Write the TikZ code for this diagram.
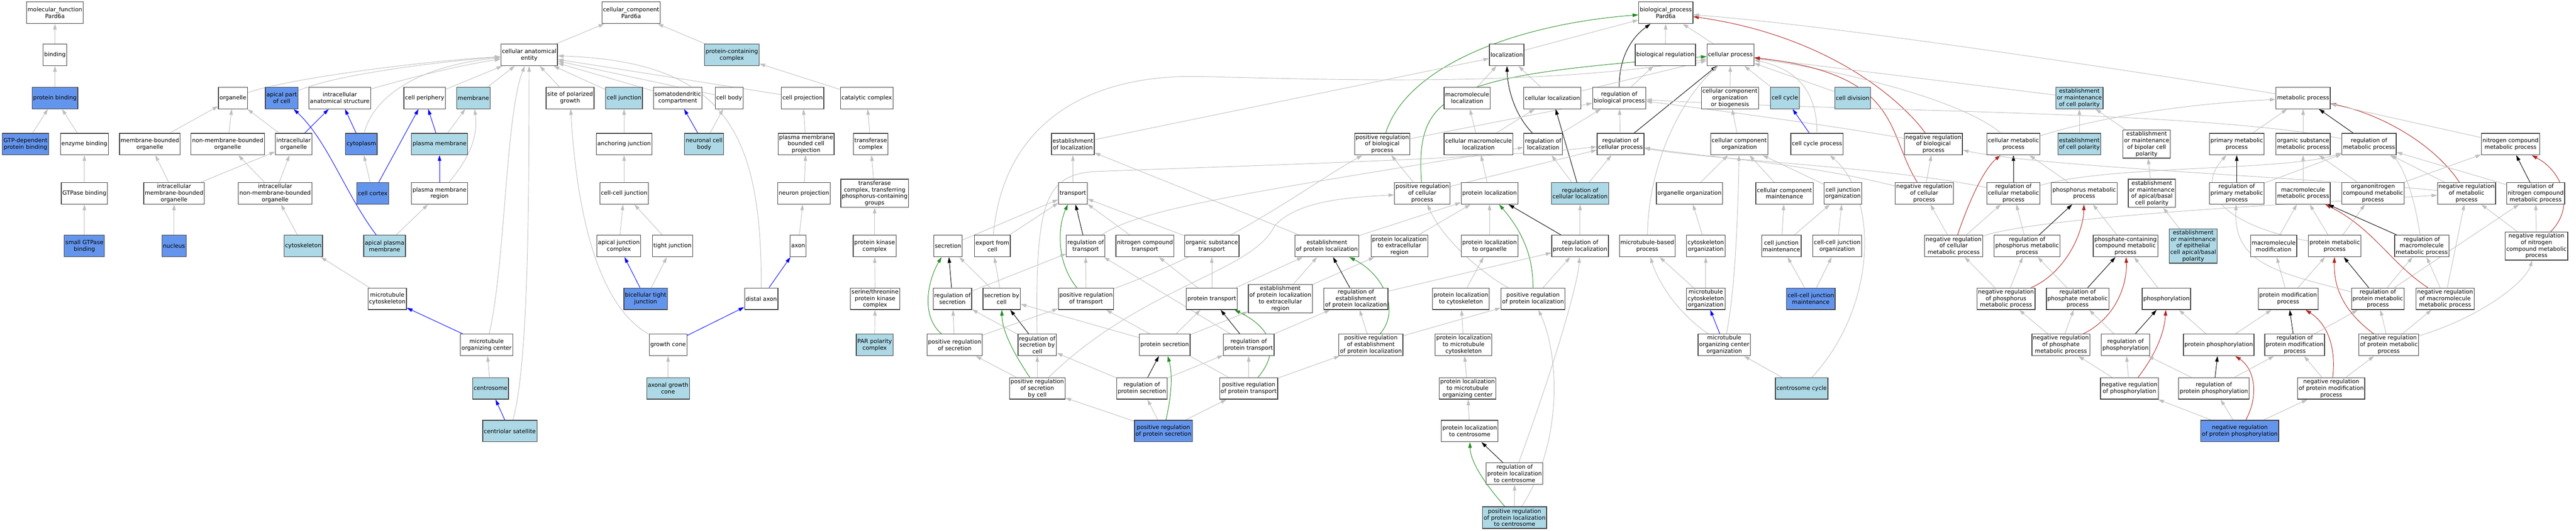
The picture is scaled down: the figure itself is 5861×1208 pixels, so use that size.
\documentclass[tikz,border=0pt]{standalone}
\usepackage{fontspec}
\setmainfont{DejaVu Sans}
\usetikzlibrary{arrows.meta}
\definecolor{cbl}{HTML}{6495ED}
\definecolor{clb}{HTML}{ADD8E6}
\definecolor{cgrey}{HTML}{BEBEBE}
\definecolor{cgreen}{HTML}{228B22}
\definecolor{cred}{HTML}{B22222}
\definecolor{cborder}{HTML}{404040}
\pgfdeclarelayer{bg}
\pgfsetlayers{bg,main}
\tikzset{
 box/.style={draw=cborder, line width=1.5pt, fill=white, rectangle, align=center,
   inner xsep=2.5pt, inner ysep=1pt, minimum height=49pt, font=\fontsize{13}{15}\selectfont},
 bl/.style={box, fill=cbl},
 lb/.style={box, fill=clb},
 tall/.style={minimum height=64pt},
 vtall/.style={minimum height=78pt},
 lnk/.style={line width=1.1pt, -{Triangle[length=13pt,width=8pt]}},
 isa/.style={lnk, cgrey},
 partof/.style={lnk, blue},
 posreg/.style={lnk, cgreen},
 negreg/.style={lnk, cred},
 reg/.style={lnk, black},
}
\begin{document}
\begin{tikzpicture}[x=1pt,y=-1pt]
\begin{pgfonlayer}{bg}
\fill[white] (0,0) rectangle (5861,1208);
\end{pgfonlayer}
\useasboundingbox (0,0) rectangle (5861,1208);
% ---------------- molecular function
\node[box] (mf) at (125,29) {molecular\_function\\Pard6a};
\node[box] (binding) at (125,125) {binding};
\node[bl] (protbind) at (125,223) {protein binding};
\node[bl] (gtpdep) at (58,328) {GTP-dependent\\protein binding};
\node[box] (enzbind) at (192,328) {enzyme binding};
\node[box] (gtpasebind) at (192,440) {GTPase binding};
\node[bl] (smallgtpase) at (192,560) {small GTPase\\binding};
% ---------------- cellular component
\node[box] (cc) at (1436,29) {cellular\_component\\Pard6a};
\node[box] (cae) at (1204,125) {cellular anatomical\\entity};
\node[lb] (pcc) at (1665,125) {protein-containing\\complex};
\node[box] (organelle) at (530,223) {organelle};
\node[bl] (apicalpart) at (641,223) {apical part\\of cell};
\node[box] (ias) at (773,223) {intracellular\\anatomical structure};
\node[box] (cellper) at (966,223) {cell periphery};
\node[lb] (membrane) at (1077,223) {membrane};
\node[box] (sitepol) at (1297,223) {site of polarized\\growth};
\node[lb] (celljunc) at (1420,223) {cell junction};
\node[box] (somato) at (1542,223) {somatodendritic\\compartment};
\node[box] (cellbody) at (1659,223) {cell body};
\node[box] (cellproj) at (1826,223) {cell projection};
\node[box] (catcomplex) at (1972,223) {catalytic complex};
\node[box] (mbo) at (341,328) {membrane-bounded\\organelle};
\node[box] (nmbo) at (518,328) {non-membrane-bounded\\organelle};
\node[box] (icorg) at (668,328) {intracellular\\organelle};
\node[bl] (cytoplasm) at (822,328) {cytoplasm};
\node[lb] (pm) at (1000,328) {plasma membrane};
\node[box] (anchjunc) at (1420,328) {anchoring junction};
\node[lb] (neurocb) at (1602,328) {neuronal cell\\body};
\node[box] (pmbcp) at (1834,328) {plasma membrane\\bounded cell\\projection};
\node[box] (transcomplex) at (1981,328) {transferase\\complex};
\node[box] (icmbo) at (396,440) {intracellular\\membrane-bounded\\organelle};
\node[box] (icnmbo) at (626,440) {intracellular\\non-membrane-bounded\\organelle};
\node[bl] (cellcortex) at (848,440) {cell cortex};
\node[box] (pmr) at (1000,440) {plasma membrane\\region};
\node[box] (ccjunc) at (1420,440) {cell-cell junction};
\node[box] (neuroproj) at (1829,440) {neuron projection};
\node[box,tall] (transphos) at (1990,440) {transferase\\complex, transferring\\phosphorus-containing\\groups};
\node[bl] (nucleus) at (396,560) {nucleus};
\node[lb] (cytoskeleton) at (690,560) {cytoskeleton};
\node[lb] (apm) at (875,560) {apical plasma\\membrane};
\node[box] (ajc) at (1408,560) {apical junction\\complex};
\node[box] (tightj) at (1530,560) {tight junction};
\node[box] (axon) at (1816,560) {axon};
\node[box] (pkc) at (1990,560) {protein kinase\\complex};
\node[box] (mtcyto) at (881,680) {microtubule\\cytoskeleton};
\node[bl] (bctj) at (1469,680) {bicellular tight\\junction};
\node[box] (distalaxon) at (1732,680) {distal axon};
\node[box] (stpkc) at (1991,680) {serine/threonine\\protein kinase\\complex};
\node[box] (mtoc) at (1107,785) {microtubule\\organizing center};
\node[box] (growthcone) at (1520,785) {growth cone};
\node[lb] (parpol) at (1990,785) {PAR polarity\\complex};
\node[lb] (centrosome) at (1116,884) {centrosome};
\node[lb] (axgc) at (1520,884) {axonal growth\\cone};
\node[lb] (centsat) at (1160,981) {centriolar satellite};
% ---------------- biological process
\node[box] (bp) at (3790,29) {biological\_process\\Pard6a};
\node[box] (localization) at (3428,125) {localization};
\node[box] (bioreg) at (3789,125) {biological regulation};
\node[box] (cellproc) at (3937,125) {cellular process};
\node[box] (macroloc) at (3338,223) {macromolecule\\localization};
\node[box] (cellloc) at (3532,223) {cellular localization};
\node[box] (regbp) at (3684,223) {regulation of\\biological process};
\node[box] (ccob) at (3936,223) {cellular component\\organization\\or biogenesis};
\node[lb] (cellcycle) at (4061,223) {cell cycle};
\node[lb] (celldiv) at (4215,223) {cell division};
\node[lb] (emcp) at (4731,223) {establishment\\or maintenance\\of cell polarity};
\node[box] (metproc) at (5240,223) {metabolic process};
\node[box] (estloc) at (2441,328) {establishment\\of localization};
\node[box] (posregbp) at (3145,328) {positive regulation\\of biological\\process};
\node[box] (cellmacroloc) at (3364,328) {cellular macromolecule\\localization};
\node[box] (regloc) at (3511,328) {regulation of\\localization};
\node[box] (regcp) at (3687,328) {regulation of\\cellular process};
\node[box] (cco) at (3957,328) {cellular component\\organization};
\node[box] (ccproc) at (4134,328) {cell cycle process};
\node[box] (negregbp) at (4399,328) {negative regulation\\of biological\\process};
\node[box] (cellmet) at (4581,328) {cellular metabolic\\process};
\node[lb] (estcp) at (4731,328) {establishment\\of cell polarity};
\node[box,tall] (embcp) at (4884,328) {establishment\\or maintenance\\of bipolar cell\\polarity};
\node[box] (primmet) at (5089,328) {primary metabolic\\process};
\node[box] (orgsubmet) at (5240,328) {organic substance\\metabolic process};
\node[box] (regmet) at (5390,328) {regulation of\\metabolic process};
\node[box] (ncmet) at (5712,328) {nitrogen compound\\metabolic process};
\node[box] (transport) at (2441,440) {transport};
\node[box] (posregcp) at (3236,440) {positive regulation\\of cellular\\process};
\node[box] (protloc) at (3389,440) {protein localization};
\node[lb] (regcellloc) at (3595,440) {regulation of\\cellular localization};
\node[box] (orgorg) at (3844,440) {organelle organization};
\node[box] (ccmaint) at (4060,440) {cellular component\\maintenance};
\node[box] (cjorg) at (4193,440) {cell junction\\organization};
\node[box] (negregcp) at (4378,440) {negative regulation\\of cellular\\process};
\node[box] (regcellmet) at (4581,440) {regulation of\\cellular metabolic\\process};
\node[box] (phosmet) at (4742,440) {phosphorus metabolic\\process};
\node[box,tall] (emabcp) at (4896,440) {establishment\\or maintenance\\of apical/basal\\cell polarity};
\node[box] (regprimmet) at (5089,440) {regulation of\\primary metabolic\\process};
\node[box] (macromet) at (5240,440) {macromolecule\\metabolic process};
\node[box] (orgnitmet) at (5399,440) {organonitrogen\\compound metabolic\\process};
\node[box] (negregmet) at (5612,440) {negative regulation\\of metabolic\\process};
\node[box] (regncmet) at (5769,440) {regulation of\\nitrogen compound\\metabolic process};
\node[box] (secretion) at (2157,560) {secretion};
\node[box] (exportcell) at (2258,560) {export from\\cell};
\node[box] (regtransport) at (2470,560) {regulation of\\transport};
\node[box] (nctransport) at (2605,560) {nitrogen compound\\transport};
\node[box] (orgsubtrans) at (2757,560) {organic substance\\transport};
\node[box] (estprotloc) at (3019,560) {establishment\\of protein localization};
\node[box] (plextra) at (3184,560) {protein localization\\to extracellular\\region};
\node[box] (plorg) at (3389,560) {protein localization\\to organelle};
\node[box] (regprotloc) at (3595,560) {regulation of\\protein localization};
\node[box] (mtbp) at (3748,560) {microtubule-based\\process};
\node[box] (cytoorg) at (3881,560) {cytoskeleton\\organization};
\node[box] (cjmaint) at (4053,560) {cell junction\\maintenance};
\node[box] (ccjorg) at (4180,560) {cell-cell junction\\organization};
\node[box] (negregcellmet) at (4445,560) {negative regulation\\of cellular\\metabolic process};
\node[box] (regphosmet) at (4612,560) {regulation of\\phosphorus metabolic\\process};
\node[box] (phoscmet) at (4836,560) {phosphate-containing\\compound metabolic\\process};
\node[lb,vtall] (emecabp) at (4990,560) {establishment\\or maintenance\\of epithelial\\cell apical/basal\\polarity};
\node[box] (macromod) at (5173,560) {macromolecule\\modification};
\node[box] (protmet) at (5312,560) {protein metabolic\\process};
\node[box] (regmacromet) at (5510,560) {regulation of\\macromolecule\\metabolic process};
\node[box,tall] (negregncmet) at (5771,560) {negative regulation\\of nitrogen\\compound metabolic\\process};
\node[box] (regsecretion) at (2167,680) {regulation of\\secretion};
\node[box] (secbycell) at (2279,680) {secretion by\\cell};
\node[box] (posregtrans) at (2471,680) {positive regulation\\of transport};
\node[box] (prottrans) at (2757,680) {protein transport};
\node[box,tall] (eplextra) at (2913,680) {establishment\\of protein localization\\to extracellular\\region};
\node[box] (regepl) at (3085,680) {regulation of\\establishment\\of protein localization};
\node[box] (plcyto) at (3324,680) {protein localization\\to cytoskeleton};
\node[box] (posregprotloc) at (3488,680) {positive regulation\\of protein localization};
\node[box] (mtcorg) at (3881,680) {microtubule\\cytoskeleton\\organization};
\node[bl] (ccjmaint) at (4120,680) {cell-cell junction\\maintenance};
\node[box] (negregphosmet) at (4564,680) {negative regulation\\of phosphorus\\metabolic process};
\node[box] (regphosphmet) at (4727,680) {regulation of\\phosphate metabolic\\process};
\node[box] (phosphorylation) at (4929,680) {phosphorylation};
\node[box] (protmod) at (5206,680) {protein modification\\process};
\node[box] (regprotmet) at (5410,680) {regulation of\\protein metabolic\\process};
\node[box] (negregmacromet) at (5563,680) {negative regulation\\of macromolecule\\metabolic process};
\node[box] (posregsec) at (2172,785) {positive regulation\\of secretion};
\node[box] (regsecbycell) at (2360,785) {regulation of\\secretion by\\cell};
\node[box] (protsec) at (2650,785) {protein secretion};
\node[box] (regprottrans) at (2841,785) {regulation of\\protein transport};
\node[box] (posregepl) at (3119,785) {positive regulation\\of establishment\\of protein localization};
\node[box] (plmtcyto) at (3330,785) {protein localization\\to microtubule\\cytoskeleton};
\node[box] (mtocorg) at (3923,785) {microtubule\\organizing center\\organization};
\node[box] (negregphosphmet) at (4689,785) {negative regulation\\of phosphate\\metabolic process};
\node[box] (regphosphoryl) at (4836,785) {regulation of\\phosphorylation};
\node[box] (protphos) at (5048,785) {protein phosphorylation};
\node[box] (regprotmod) at (5221,785) {regulation of\\protein modification\\process};
\node[box] (negregprotmet) at (5435,785) {negative regulation\\of protein metabolic\\process};
\node[box] (posregsecbycell) at (2360,884) {positive regulation\\of secretion\\by cell};
\node[box] (regprotsec) at (2598,884) {regulation of\\protein secretion};
\node[box] (posregprottrans) at (2841,884) {positive regulation\\of protein transport};
\node[box] (plmtoc) at (3339,884) {protein localization\\to microtubule\\organizing center};
\node[lb] (centcycle) at (4099,884) {centrosome cycle};
\node[box] (negregphosphoryl) at (4845,884) {negative regulation\\of phosphorylation};
\node[box] (regprotphos) at (5037,884) {regulation of\\protein phosphorylation};
\node[box] (negregprotmod) at (5304,884) {negative regulation\\of protein modification\\process};
\node[bl] (posregprotsec) at (2647,981) {positive regulation\\of protein secretion};
\node[box] (plcentro) at (3344,981) {protein localization\\to centrosome};
\node[bl] (negregprotphos) at (5096,981) {negative regulation\\of protein phosphorylation};
\node[box] (regplcentro) at (3446,1078) {regulation of\\protein localization\\to centrosome};
\node[lb] (posregplcentro) at (3446,1178) {positive regulation\\of protein localization\\to centrosome};

\begin{pgfonlayer}{bg}
% ---- MF
\draw[isa] (binding) -- (mf);
\draw[isa] (protbind) -- (binding);
\draw[isa] (gtpdep) -- (protbind);
\draw[isa] (enzbind) -- (protbind);
\draw[isa] (gtpasebind) -- (enzbind);
\draw[isa] (smallgtpase) -- (gtpasebind);
% ---- CC
\draw[isa] (cae) -- (cc);
\draw[isa] (pcc) -- (cc);
\draw[isa] (catcomplex) -- (pcc);
\draw[isa] (transcomplex) -- (catcomplex);
\draw[isa] (transphos) -- (transcomplex);
\draw[isa] (pkc) -- (transphos);
\draw[isa] (stpkc) -- (pkc);
\draw[isa] (parpol) -- (stpkc);
\draw[isa] (organelle) .. controls (650,180) and (950,140) .. (cae);
\draw[isa] (apicalpart) .. controls (760,170) and (1000,140) .. (cae);
\draw[isa] (ias) .. controls (950,172) and (1050,148) .. (cae);
\draw[isa] (cytoplasm) .. controls (850,220) and (950,150) .. (cae);
\draw[isa] (cellper) -- (cae);
\draw[isa] (membrane) -- (cae);
\draw[isa] (sitepol) -- (cae);
\draw[isa] (celljunc) -- (cae);
\draw[isa] (somato) -- (cae);
\draw[isa] (cellbody) -- (cae);
\draw[isa] (cellproj) -- (cae);
\draw[isa] (mbo) -- (organelle);
\draw[isa] (nmbo) -- (organelle);
\draw[isa] (icorg) -- (organelle);
\draw[partof] (icorg) -- (ias);
\draw[partof] (cytoplasm) -- (ias);
\draw[isa] (icmbo) -- (mbo);
\draw[isa] (icmbo) -- (icorg);
\draw[isa] (icnmbo) -- (nmbo);
\draw[isa] (icnmbo) -- (icorg);
\draw[isa] (cellcortex) -- (cytoplasm);
\draw[partof] (cellcortex) -- (cellper);
\draw[partof] (pm) -- (cellper);
\draw[isa] (pm) -- (membrane);
\draw[partof] (pmr) -- (pm);
\draw[isa] (pmr) .. controls (1085,340) and (1085,290) .. (membrane);
\draw[isa] (nucleus) -- (icmbo);
\draw[isa] (cytoskeleton) -- (icnmbo);
\draw[partof] (apm) .. controls (785,440) and (745,320) .. (apicalpart);
\draw[isa] (apm) -- (pmr);
\draw[isa] (mtcyto) -- (cytoskeleton);
\draw[partof] (mtoc) -- (mtcyto);
\draw[isa] (mtoc) .. controls (1150,600) and (1150,260) .. (cae);
\draw[isa] (centrosome) -- (mtoc);
\draw[partof] (centsat) -- (centrosome);
\draw[isa] (centsat) .. controls (1205,820) and (1203,400) .. (cae);
\draw[isa] (anchjunc) -- (celljunc);
\draw[isa] (ccjunc) -- (anchjunc);
\draw[isa] (ajc) -- (ccjunc);
\draw[isa] (tightj) -- (ccjunc);
\draw[partof] (bctj) -- (ajc);
\draw[isa] (bctj) -- (tightj);
\draw[partof] (neurocb) -- (somato);
\draw[isa] (neurocb) -- (cellbody);
\draw[isa] (pmbcp) -- (cellproj);
\draw[isa] (neuroproj) -- (pmbcp);
\draw[isa] (axon) -- (neuroproj);
\draw[partof] (distalaxon) -- (axon);
\draw[isa] (distalaxon) .. controls (1733,300) and (1650,140) .. (cae);
\draw[partof] (growthcone) -- (distalaxon);
\draw[isa] (growthcone) .. controls (1350,690) and (1310,450) .. (sitepol);
\draw[isa] (axgc) -- (growthcone);
% ---- BP top
\draw[isa] (localization) -- (bp);
\draw[isa] (bioreg) -- (bp);
\draw[isa] (cellproc) -- (bp);
\draw[posreg] (posregbp) .. controls (3200,150) and (3450,55) .. (bp);
\draw[reg] (regbp) .. controls (3684,120) and (3720,80) .. (bp);
\draw[negreg] (negregbp) .. controls (4320,220) and (4150,80) .. (bp);
\draw[isa] (metproc) .. controls (4900,170) and (4200,60) .. (bp);
\draw[isa] (regbp) -- (bioreg);
\draw[isa] (macroloc) -- (localization);
\draw[isa] (cellloc) -- (localization);
\draw[isa] (estloc) -- (localization);
\draw[reg] (regloc) .. controls (3445,260) and (3430,200) .. (localization);
\draw[isa] (cellloc) -- (cellproc);
\draw[posreg] (posregcp) .. controls (3220,210) and (3290,170) .. (cellproc);
\draw[isa] (exportcell) .. controls (2280,300) and (2450,170) .. (2725,174) .. controls (3000,180) and (3500,200) .. (cellproc);
\draw[reg] (regcp) -- (cellproc);
\draw[isa] (ccob) -- (cellproc);
\draw[isa] (mtbp) .. controls (3750,380) and (3820,230) .. (cellproc);
\draw[isa] (cellcycle) -- (cellproc);
\draw[isa] (celldiv) -- (cellproc);
\draw[isa] (ccproc) .. controls (4134,220) and (4100,160) .. (cellproc);
\draw[isa] (emcp) -- (cellproc);
\draw[isa] (cellmet) .. controls (4480,240) and (4250,170) .. (cellproc);
\draw[negreg] (negregcp) .. controls (4290,300) and (4330,170) .. (cellproc);
\draw[isa] (regcp) -- (regbp);
\draw[isa] (posregbp) -- (regbp);
\draw[isa] (regloc) -- (regbp);
\draw[isa] (negregbp) .. controls (4200,290) and (3900,250) .. (regbp);
\draw[isa] (regmet) .. controls (5000,250) and (4200,255) .. (regbp);
\draw[isa] (cellmacroloc) -- (macroloc);
\draw[isa] (cellmacroloc) -- (cellloc);
\draw[reg] (regcellloc) -- (cellloc);
\draw[isa] (posregcp) -- (posregbp);
\draw[isa] (posregcp) -- (regcp);
\draw[isa] (protloc) -- (cellmacroloc);
\draw[isa] (regcellloc) -- (regloc);
\draw[isa] (regcellloc) -- (regcp);
\draw[isa] (posregtrans) .. controls (2800,560) and (2980,420) .. (posregbp);
\draw[isa] (regsecbycell) .. controls (2355,450) and (2380,395) .. (2500,390) .. controls (2900,375) and (3400,360) .. (regcp);
\draw[isa] (regtransport) .. controls (2600,470) and (2900,430) .. (regloc);
\draw[isa] (negregcp) .. controls (4100,370) and (3900,360) .. (regcp);
\draw[isa] (regcellmet) .. controls (4300,380) and (3900,365) .. (regcp);
% ---- transport / secretion
\draw[isa] (transport) -- (estloc);
\draw[isa] (estprotloc) -- (estloc);
\draw[isa] (secretion) -- (transport);
\draw[isa] (exportcell) -- (transport);
\draw[reg] (regtransport) -- (transport);
\draw[posreg] (posregtrans) .. controls (2405,600) and (2405,520) .. (transport);
\draw[isa] (nctransport) -- (transport);
\draw[isa] (orgsubtrans) -- (transport);
\draw[posreg] (posregsec) .. controls (2095,720) and (2110,640) .. (secretion);
\draw[reg] (regsecretion) -- (secretion);
\draw[isa] (secbycell) -- (secretion);
\draw[isa] (secbycell) -- (exportcell);
\draw[isa] (regsecretion) -- (regtransport);
\draw[isa] (posregtrans) -- (regtransport);
\draw[isa] (regprottrans) -- (regtransport);
\draw[isa] (prottrans) -- (nctransport);
\draw[isa] (prottrans) -- (orgsubtrans);
\draw[isa] (prottrans) -- (estprotloc);
\draw[isa] (posregsec) -- (regsecretion);
\draw[isa] (regsecbycell) -- (regsecretion);
\draw[posreg] (posregsecbycell) .. controls (2290,780) and (2280,740) .. (secbycell);
\draw[reg] (regsecbycell) -- (secbycell);
\draw[isa] (protsec) -- (secbycell);
\draw[isa] (protsec) -- (prottrans);
\draw[isa] (protsec) -- (eplextra);
\draw[isa] (posregsec) -- (posregtrans);
\draw[isa] (posregprottrans) -- (posregtrans);
\draw[reg] (regprottrans) -- (prottrans);
\draw[posreg] (posregprottrans) .. controls (2920,790) and (2880,740) .. (prottrans);
\draw[isa] (eplextra) -- (estprotloc);
\draw[isa] (eplextra) -- (plextra);
\draw[isa] (regprottrans) -- (regepl);
\draw[isa] (posregsecbycell) -- (posregsec);
\draw[isa] (posregsecbycell) -- (regsecbycell);
\draw[isa] (posregsecbycell) .. controls (2600,650) and (2850,620) .. (2900,514) .. controls (2950,460) and (3050,450) .. (posregcp);
\draw[isa] (regprotsec) -- (regsecbycell);
\draw[isa] (regprotsec) -- (regprottrans);
\draw[reg] (regprotsec) -- (protsec);
\draw[isa] (posregprottrans) -- (regprottrans);
\draw[isa] (posregprottrans) -- (posregepl);
\draw[isa] (posregprotsec) -- (regprotsec);
\draw[isa] (posregprotsec) -- (posregsecbycell);
\draw[isa] (posregprotsec) -- (posregprottrans);
\draw[posreg] (posregprotsec) .. controls (2670,880) and (2665,840) .. (protsec);
% ---- protein localization
\draw[isa] (estprotloc) -- (protloc);
\draw[isa] (plextra) -- (protloc);
\draw[isa] (plorg) -- (protloc);
\draw[reg] (regprotloc) -- (protloc);
\draw[posreg] (posregprotloc) .. controls (3488,600) and (3475,540) .. (protloc);
\draw[isa] (regprotloc) -- (regcellloc);
\draw[reg] (regepl) -- (estprotloc);
\draw[posreg] (posregepl) .. controls (3190,700) and (3140,620) .. (estprotloc);
\draw[isa] (regepl) -- (regprotloc);
\draw[isa] (posregepl) -- (regepl);
\draw[isa] (posregepl) -- (posregprotloc);
\draw[isa] (posregprotloc) -- (regprotloc);
\draw[isa] (posregprotloc) .. controls (3400,640) and (3290,560) .. (posregcp);
\draw[isa] (plcyto) -- (plorg);
\draw[isa] (plmtcyto) -- (plcyto);
\draw[isa] (plmtoc) -- (plmtcyto);
\draw[isa] (plcentro) -- (plmtoc);
\draw[reg] (regplcentro) -- (plcentro);
\draw[isa] (regplcentro) .. controls (3530,850) and (3590,650) .. (regprotloc);
\draw[posreg] (posregplcentro) .. controls (3360,1080) and (3345,1040) .. (plcentro);
\draw[isa] (posregplcentro) -- (regplcentro);
\draw[isa] (posregplcentro) .. controls (3560,1000) and (3545,800) .. (posregprotloc);
% ---- organization
\draw[isa] (orgorg) -- (cco);
\draw[isa] (cco) -- (ccob);
\draw[isa] (ccmaint) -- (cco);
\draw[isa] (cjorg) -- (cco);
\draw[isa] (mtocorg) .. controls (3950,650) and (3955,450) .. (cco);
\draw[isa] (cytoorg) -- (orgorg);
\draw[isa] (mtcorg) -- (cytoorg);
\draw[isa] (mtcorg) -- (mtbp);
\draw[isa] (mtocorg) .. controls (3800,700) and (3765,620) .. (mtbp);
\draw[partof] (mtocorg) -- (mtcorg);
\draw[partof] (ccproc) -- (cellcycle);
\draw[isa] (centcycle) .. controls (4270,700) and (4275,450) .. (ccproc);
\draw[isa] (centcycle) -- (mtocorg);
\draw[isa] (cjmaint) -- (ccmaint);
\draw[isa] (cjmaint) -- (cjorg);
\draw[isa] (ccjorg) -- (cjorg);
\draw[isa] (ccjmaint) -- (cjmaint);
\draw[isa] (ccjmaint) -- (ccjorg);
\draw[isa] (estcp) -- (emcp);
\draw[isa] (embcp) -- (emcp);
\draw[isa] (emabcp) -- (embcp);
\draw[isa] (emecabp) -- (emabcp);
% ---- metabolism
\draw[isa] (negregcp) -- (negregbp);
\draw[isa] (negregcellmet) -- (negregcp);
\draw[reg] (regcellmet) -- (cellmet);
\draw[negreg] (negregcellmet) .. controls (4490,430) and (4520,380) .. (cellmet);
\draw[isa] (phosmet) -- (cellmet);
\draw[isa] (cellmet) .. controls (4800,260) and (5000,235) .. (metproc);
\draw[isa] (negregcellmet) -- (regcellmet);
\draw[isa] (regphosmet) -- (regcellmet);
\draw[isa] (regcellmet) .. controls (4800,375) and (5200,390) .. (regmet);
\draw[isa] (negregcellmet) .. controls (4650,490) and (5300,460) .. (negregmet);
\draw[isa] (negregmet) .. controls (5200,400) and (4650,380) .. (negregbp);
\draw[reg] (regphosmet) -- (phosmet);
\draw[isa] (phoscmet) -- (phosmet);
\draw[negreg] (negregphosmet) .. controls (4700,620) and (4740,530) .. (phosmet);
\draw[isa] (negregphosmet) -- (negregcellmet);
\draw[isa] (negregphosmet) -- (regphosmet);
\draw[isa] (regphosphmet) -- (regphosmet);
\draw[reg] (regphosphmet) -- (phoscmet);
\draw[negreg] (negregphosphmet) .. controls (4820,720) and (4840,640) .. (phoscmet);
\draw[isa] (phosphorylation) -- (phoscmet);
\draw[isa] (negregphosphmet) -- (negregphosmet);
\draw[isa] (negregphosphmet) -- (regphosphmet);
\draw[isa] (regphosphoryl) -- (regphosphmet);
\draw[reg] (regphosphoryl) -- (phosphorylation);
\draw[isa] (negregphosphoryl) -- (regphosphoryl);
\draw[isa] (negregphosphoryl) -- (negregphosphmet);
\draw[negreg] (negregphosphoryl) .. controls (4910,800) and (4925,750) .. (phosphorylation);
\draw[isa] (regprotphos) -- (regphosphoryl);
\draw[isa] (negregprotphos) -- (negregphosphoryl);
\draw[isa] (protphos) -- (phosphorylation);
\draw[isa] (protphos) -- (protmod);
\draw[reg] (regprotphos) -- (protphos);
\draw[negreg] (negregprotphos) .. controls (5140,900) and (5130,840) .. (protphos);
\draw[isa] (regprotphos) -- (regprotmod);
\draw[isa] (negregprotphos) -- (regprotphos);
\draw[isa] (negregprotphos) -- (negregprotmod);
\draw[isa] (protmod) -- (macromod);
\draw[isa] (protmod) -- (protmet);
\draw[reg] (regprotmod) -- (protmod);
\draw[negreg] (negregprotmod) .. controls (5315,800) and (5300,740) .. (protmod);
\draw[isa] (regprotmod) -- (regprotmet);
\draw[isa] (negregprotmod) -- (regprotmod);
\draw[isa] (negregprotmod) -- (negregprotmet);
\draw[isa] (negregprotmet) -- (regprotmet);
\draw[isa] (negregprotmet) -- (negregmacromet);
\draw[negreg] (negregprotmet) .. controls (5320,700) and (5310,640) .. (protmet);
\draw[isa] (negregprotmet) .. controls (5650,720) and (5747,640) .. (negregncmet);
\draw[reg] (regprotmet) -- (protmet);
\draw[isa] (regprotmet) -- (regmacromet);
\draw[isa] (regprotmet) .. controls (5180,620) and (5081,600) .. (regprimmet);
\draw[isa] (regprotmet) -- (regncmet);
\draw[isa] (negregmacromet) -- (regmacromet);
\draw[isa] (negregmacromet) -- (negregmet);
\draw[negreg] (negregmacromet) .. controls (5440,600) and (5400,520) .. (macromet);
\draw[isa] (macromod) -- (macromet);
\draw[isa] (protmet) -- (macromet);
\draw[isa] (protmet) -- (orgnitmet);
\draw[isa] (protmet) .. controls (5050,510) and (4995,430) .. (primmet);
\draw[reg] (regmacromet) -- (macromet);
\draw[isa] (regmacromet) .. controls (5486,400) and (5450,360) .. (regmet);
\draw[isa] (primmet) -- (metproc);
\draw[isa] (orgsubmet) -- (metproc);
\draw[reg] (regmet) -- (metproc);
\draw[negreg] (negregmet) .. controls (5540,330) and (5420,260) .. (metproc);
\draw[isa] (ncmet) -- (metproc);
\draw[reg] (regprimmet) -- (primmet);
\draw[isa] (regprimmet) -- (regmet);
\draw[isa] (macromet) -- (orgsubmet);
\draw[isa] (orgnitmet) -- (orgsubmet);
\draw[isa] (orgnitmet) -- (ncmet);
\draw[isa] (negregmet) -- (regmet);
\draw[isa] (regncmet) -- (regmet);
\draw[reg] (regncmet) -- (ncmet);
\draw[negreg] (negregncmet) .. controls (5860,470) and (5830,390) .. (ncmet);
\draw[isa] (negregncmet) -- (negregmet);
\draw[isa] (negregncmet) -- (regncmet);
\end{pgfonlayer}
\end{tikzpicture}
\end{document}
